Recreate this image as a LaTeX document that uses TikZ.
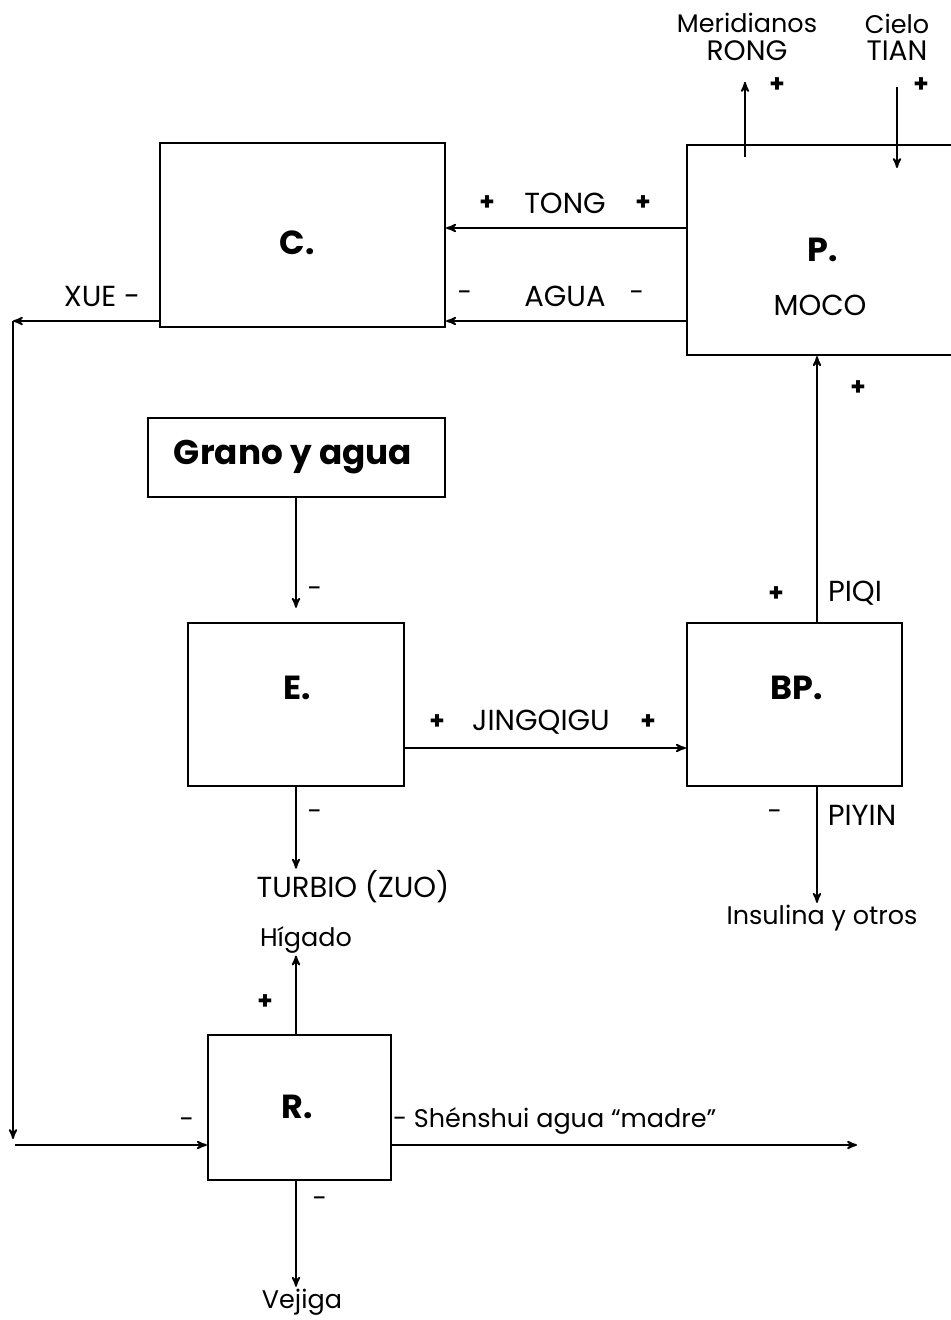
\documentclass[tikz,border=0pt]{standalone}
\usepackage{fontspec}
\setmainfont{Poppins}
\usetikzlibrary{arrows}
\tikzset{
	box/.style={draw, line width=1.3pt, inner sep=0pt},
	conn/.style={->, >=stealth', line width=1pt},
	txt/.style={font=\fontsize{14.5}{15.5}\selectfont, inner sep=1pt, align=center},
	capt/.style={font=\fontsize{16.5}{17}\selectfont, inner sep=1pt},
	sgn/.style={font=\fontsize{14}{15}\selectfont\bfseries, inner sep=0pt},
	neg/.style={font=\fontsize{15}{15}\selectfont, inner sep=0pt},
	boxlbl/.style={font=\fontsize{19}{22}\selectfont\bfseries, inner sep=0pt},
}

\begin{document}
\begin{tikzpicture}[x=0.02cm, y=-0.02cm]
	\useasboundingbox (0,0) rectangle (951,1320);
	\clip (0,0) rectangle (951,1320);
	
	% boxes
	\node[box, minimum width=5.7cm, minimum height=3.68cm] (C) at (302.5,235) {};
	\node[box, minimum width=5.56cm, minimum height=4.2cm] (P) at (826,250) {};
	\node[box, minimum width=5.94cm, minimum height=1.58cm] (G) at (296.5,457.5) {};
	\node[box, minimum width=4.32cm, minimum height=3.26cm] (E) at (296,704.5) {};
	\node[box, minimum width=4.3cm, minimum height=3.26cm] (BP) at (794.5,704.5) {};
	\node[box, minimum width=3.66cm, minimum height=2.9cm] (R) at (299.5,1107.5) {};
	
	\node[boxlbl] (Clbl) at (297,243) {C.};
	\node[boxlbl] (Plbl) at (823,250) {P.};
	\node[capt] (moco) at (820,305) {MOCO};
	\node[boxlbl, font=\fontsize{19.5}{22}\selectfont\bfseries] (Glbl) at (293,457) {Grano y agua};
	\node[boxlbl] (Elbl) at (297,688) {E.};
	\node[boxlbl] (BPlbl) at (797,688) {BP.};
	\node[boxlbl] (Rlbl) at (297,1107) {R.};
	
	% outer texts
	\node[txt] (rong) at (747,37) {Meridianos\\{\fontsize{16}{16}\selectfont RONG}};
	\node[txt] (tian) at (897,37) {Cielo\\{\fontsize{16}{16}\selectfont TIAN}};
	\node[capt] (xue) at (102,296) {XUE -};
	\node[capt] (turbio) at (353,887) {TURBIO (ZUO)};
	\node[txt] (higado) at (306,940) {Hígado};
	\node[txt] (insulina) at (822,918) {Insulina y otros};
	\node[txt] (vejiga) at (302,1302) {Vejiga};
	\node[txt, anchor=west] (shen) at (391,1121) {- Shénshui agua “madre”};
	\node[capt] (tong) at (565,203) {TONG};
	\node[capt] (agua) at (565,296) {AGUA};
	\node[capt] (jing) at (541,722) {JINGQIGU};
	\node[capt] (piqi) at (855,593) {PIQI};
	\node[capt] (piyin) at (862,815) {PIYIN};
	
	% signs
	\node[sgn] (s1) at (777,85) {+};
	\node[sgn] (s2) at (921,85) {+};
	\node[sgn] (s3) at (487,203) {+};
	\node[sgn] (s4) at (643,203) {+};
	\node[neg] (s5) at (465,296) {-};
	\node[neg] (s6) at (637,296) {-};
	\node[sgn] (s7) at (858,388) {+};
	\node[neg] (s8) at (315,592) {-};
	\node[sgn] (s9) at (776,594) {+};
	\node[sgn] (s10) at (437,722) {+};
	\node[sgn] (s11) at (648,722) {+};
	\node[neg] (s12) at (315,815) {-};
	\node[neg] (s13) at (775,815) {-};
	\node[sgn] (s14) at (265,1002) {+};
	\node[neg] (s15) at (187,1123) {-};
	\node[neg] (s16) at (320,1202) {-};
	
	% free ends
	\coordinate (rongA) at (745,157);
	\coordinate (tianB) at (897,168);
	\coordinate (xueA) at (13,321);
	\coordinate (xueB) at (13,1139);
	\coordinate (xueC) at (15,1145);
	\coordinate (shenB) at (857,1145);
	
	% connectors
	\draw[conn, shorten >=11pt] (rongA) -- (rongA |- rong.south);
	\draw[conn, shorten <=14pt] (tianB |- tian.south) -- (tianB);
	\draw[conn] (P.west |- 0,228) -- (C.east |- 0,228);
	\draw[conn] (P.west |- 0,321) -- (C.east |- 0,321);
	\draw[conn] (C.west |- xueA) -- (xueA);
	\draw[conn] (xueA) -- (xueB);
	\draw[conn] (xueC) -- (R.west |- xueC);
	\draw[conn, shorten >=8pt] (G.south -| 296,0) -- (E.north -| 296,0);
	\draw[conn] (E.south -| 296,0) -- (turbio.north -| 296,0);
	\draw[conn] (R.north -| 296,0) -- (higado.south -| 296,0);
	\draw[conn] (R.south -| 296,0) -- (vejiga.north -| 296,0);
	\draw[conn] (R.east |- shenB) -- (shenB);
	\draw[conn] (E.east |- 0,748) -- (BP.west |- 0,748);
	\draw[conn] (BP.north -| 817,0) -- (P.south -| 817,0);
	\draw[conn] (BP.south -| 817,0) -- (insulina.north -| 817,0);
\end{tikzpicture}
\end{document}
